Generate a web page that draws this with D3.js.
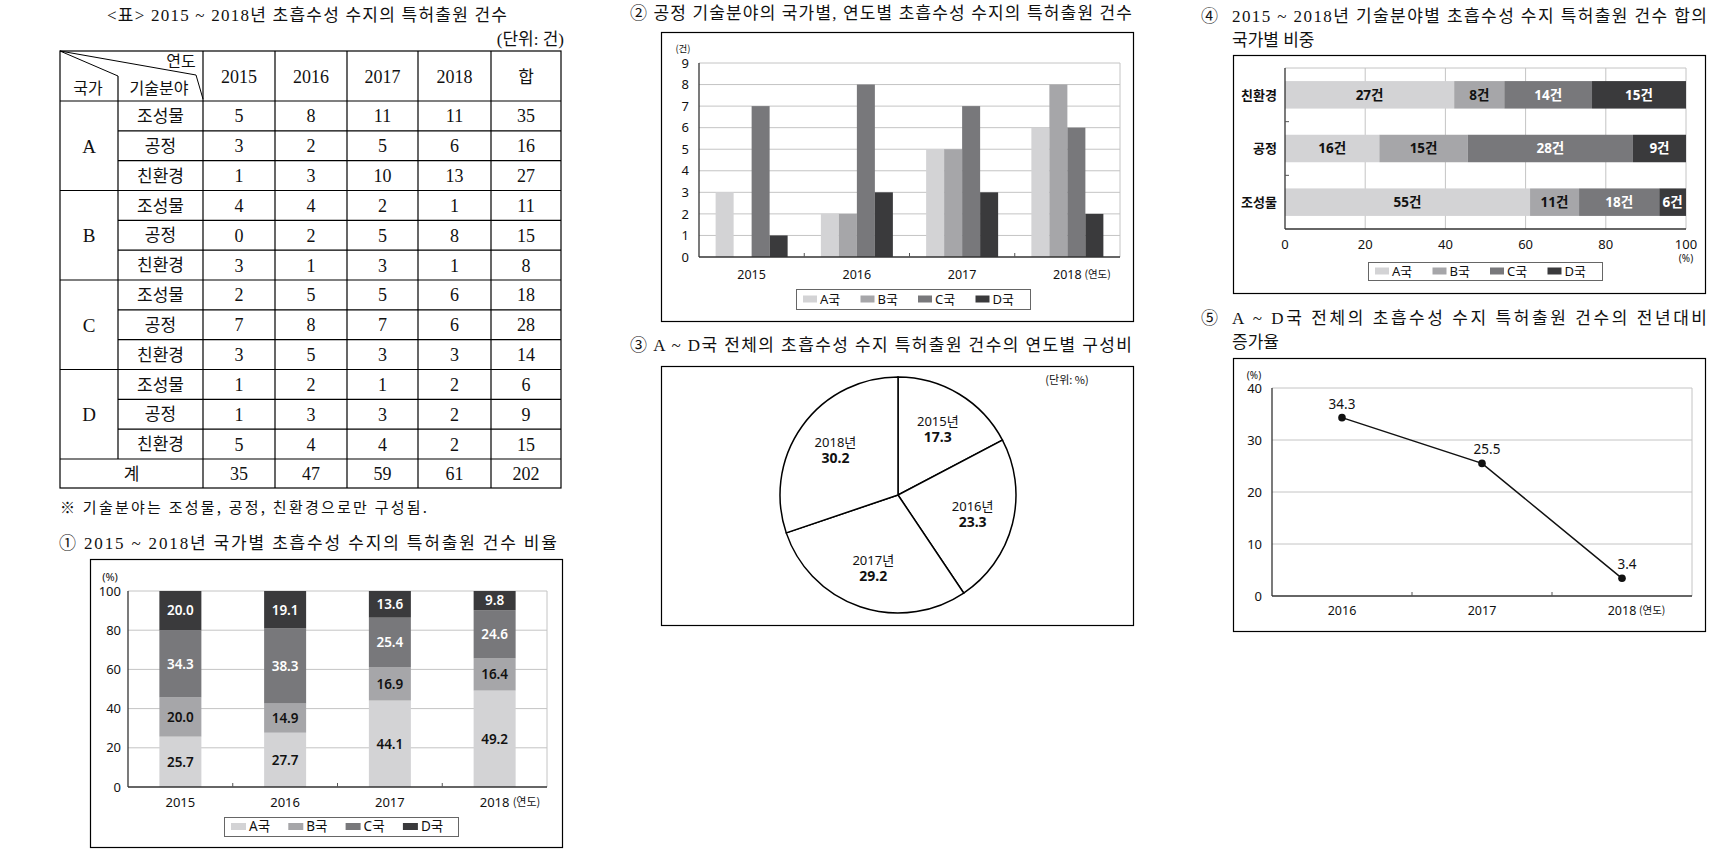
<!DOCTYPE html>
<html>
<head>
<meta charset="utf-8">
<script src="https://cdn.jsdelivr.net/npm/d3@7"></script>
<style>
body { margin: 0; background: #fff; }
svg text { font-family: "Noto Sans", "Noto Sans CJK KR", sans-serif; fill: #111; }
svg text.serif { font-family: "Liberation Serif", "Noto Sans CJK KR", serif; }
svg text.kr { font-family: "Noto Sans CJK KR", sans-serif; }
</style>
</head>
<body>
<div id="chart"></div>
<script>
// ---- data ----
const years = ["2015", "2016", "2017", "2018"];
const countries = ["A국", "B국", "C국", "D국"];
const countryLetters = ["A", "B", "C", "D"];
const fields = ["조성물", "공정", "친환경"];

// table rows: 2015, 2016, 2017, 2018, 합
const tableA = [[5, 8, 11, 11, 35], [3, 2, 5, 6, 16], [1, 3, 10, 13, 27]];
const tableB = [[4, 4, 2, 1, 11], [0, 2, 5, 8, 15], [3, 1, 3, 1, 8]];
const tableC = [[2, 5, 5, 6, 18], [7, 8, 7, 6, 28], [3, 5, 3, 3, 14]];
const tableD = [[1, 2, 1, 2, 6], [1, 3, 3, 2, 9], [5, 4, 4, 2, 15]];
const tableTotal = [35, 47, 59, 61, 202];

// ① share by country (%)
const shareA = [25.7, 27.7, 44.1, 49.2];
const shareB = [20.0, 14.9, 16.9, 16.4];
const shareC = [34.3, 38.3, 25.4, 24.6];
const shareD = [20.0, 19.1, 13.6, 9.8];

// ② 공정 counts
const processA = [3, 2, 5, 6];
const processB = [0, 2, 5, 8];
const processC = [7, 8, 7, 6];
const processD = [1, 3, 3, 2];

// ③ share by year (%)
const pieShares = [17.3, 23.3, 29.2, 30.2];

// ④ field totals by country
const fieldOrder = ["친환경", "공정", "조성물"];
const fieldA = [27, 16, 55];
const fieldB = [8, 15, 11];
const fieldC = [14, 28, 18];
const fieldD = [15, 9, 6];

// ⑤ growth rate (%)
const growthYears = ["2016", "2017", "2018"];
const growthRate = [34.3, 25.5, 3.4];

const colors = ["#d3d3d5", "#a6a6a9", "#78787b", "#3a3a3c"];
const gridColor = "#c4c4c4";

const svg = d3.select("#chart").append("svg")
    .attr("width", 1715)
    .attr("height", 855);

function title(x, y, str, len, size) {
    const t = svg.append("text").attr("class", "serif")
        .attr("x", x).attr("y", y)
        .style("font-size", (size || 17) + "px")
        .text(str);
    if (len) t.attr("textLength", len).attr("lengthAdjust", "spacing");
    return t;
}

function box(x0, y0, x1, y1) {
    svg.append("rect")
        .attr("x", x0 + 0.5).attr("y", y0 + 0.5)
        .attr("width", x1 - x0).attr("height", y1 - y0)
        .attr("fill", "none").attr("stroke", "#000").attr("stroke-width", 1.2);
}

function legend(x0, y0, x1, y1, sx, step, size, sw) {
    const g = svg.append("g");
    g.append("rect").attr("x", x0 + 0.5).attr("y", y0 + 0.5)
        .attr("width", x1 - x0).attr("height", y1 - y0)
        .attr("fill", "#fff").attr("stroke", "#666");
    const cy = (y0 + y1) / 2;
    sw = sw || 14;
    countries.forEach((c, i) => {
        g.append("rect").attr("x", sx + i * step).attr("y", cy - 3.5)
            .attr("width", sw).attr("height", 7).attr("fill", colors[i]);
        g.append("text").attr("x", sx + i * step + sw + 3).attr("y", cy)
            .attr("dy", "0.35em").style("font-size", size + "px").text(c);
    });
}

// ================= TABLE =================
title(107, 21, "<표> 2015 ~ 2018년 초흡수성 수지의 특허출원 건수", 400, 17);
title(564, 45, "(단위: 건)", null, 17).attr("text-anchor", "end");

const colX = [60, 118, 203, 275, 347, 418, 491, 561];
const headTop = 51, rowY0 = 101, rowH = (459 - 101) / 12, totalBottom = 488;
const tableRows = [tableA, tableB, tableC, tableD];
const tb = svg.append("g");
const line = (x1, y1, x2, y2, w) => tb.append("line")
    .attr("x1", x1).attr("y1", y1).attr("x2", x2).attr("y2", y2)
    .attr("stroke", "#000").attr("stroke-width", w || 1.2);

// outer frame and verticals
tb.append("rect").attr("x", colX[0]).attr("y", headTop)
    .attr("width", colX[7] - colX[0]).attr("height", totalBottom - headTop)
    .attr("fill", "none").attr("stroke", "#000").attr("stroke-width", 1.2);
line(colX[1], 76, colX[1], 459);
colX.slice(2, 7).forEach(x => line(x, headTop, x, totalBottom));
line(colX[0], rowY0, colX[7], rowY0);
for (let r = 1; r < 12; r++) {
    const y = rowY0 + r * rowH;
    if (r % 3 === 0) line(colX[0], y, colX[7], y);
    else line(colX[1], y, colX[7], y);
}
line(colX[0], 459, colX[7], 459);
// header diagonals
line(colX[0], headTop, colX[1], 76, 1);
tb.append("path").attr("d", `M${colX[0]},${headTop}L196,75L203,99`)
    .attr("fill", "none").attr("stroke", "#000").attr("stroke-width", 1);

const cellText = (x, y, str, cls, size) => tb.append("text").attr("class", cls)
    .attr("x", x).attr("y", y).attr("dy", "0.36em").attr("text-anchor", "middle")
    .style("font-size", size + "px").text(str);

cellText(181, 61, "연도", "kr", 16);
cellText(88, 88, "국가", "kr", 16);
cellText(159, 88, "기술분야", "kr", 16);
years.concat(["합"]).forEach((yv, i) => {
    cellText((colX[i + 2] + colX[i + 3]) / 2, 77, yv, yv === "합" ? "kr" : "serif", yv === "합" ? 17 : 18);
});
tableRows.forEach((rows, ci) => {
    cellText((colX[0] + colX[1]) / 2, rowY0 + (ci * 3 + 1.5) * rowH, countryLetters[ci], "serif", 19);
    rows.forEach((vals, fi) => {
        const cy = rowY0 + (ci * 3 + fi + 0.5) * rowH;
        cellText((colX[1] + colX[2]) / 2, cy, fields[fi], "kr", 17);
        vals.forEach((v, k) => cellText((colX[k + 2] + colX[k + 3]) / 2, cy, v, "serif", 18));
    });
});
cellText((colX[0] + colX[2]) / 2, (459 + totalBottom) / 2, "계", "kr", 17);
tableTotal.forEach((v, k) => cellText((colX[k + 2] + colX[k + 3]) / 2, (459 + totalBottom) / 2, v, "serif", 18));

svg.append("text").attr("class", "kr").attr("x", 60).attr("y", 513)
    .attr("textLength", 367).attr("lengthAdjust", "spacing")
    .style("font-size", "15px").text("※  기술분야는 조성물, 공정, 친환경으로만 구성됨.");

// ================= ① stacked 100% bars =================
title(59, 549, "① 2015 ~ 2018년 국가별 초흡수성 수지의 특허출원 건수 비율", 498);
box(90, 559, 562, 847);
{
    const g = svg.append("g");
    const x0 = 128, x1 = 547;
    const x = d3.scaleBand().domain(years).range([x0, x1]);
    const y = d3.scaleLinear().domain([0, 100]).range([787, 591]);
    const ticks = y.ticks(5);
    g.selectAll(".grid").data(ticks.slice(1)).enter().append("line")
        .attr("x1", x0).attr("x2", x1).attr("y1", d => y(d)).attr("y2", d => y(d))
        .attr("stroke", gridColor);
    g.append("line").attr("x1", x1).attr("x2", x1).attr("y1", 591).attr("y2", 787).attr("stroke", gridColor);

    const rows = years.map((yr, i) => [shareA[i], shareB[i], shareC[i], shareD[i]]);
    const series = d3.stack().keys([0, 1, 2, 3])(rows);
    const bw = 42;
    series.forEach((s, si) => {
        g.selectAll(".b" + si).data(s).enter().append("rect")
            .attr("x", (d, i) => x(years[i]) + x.bandwidth() / 2 - bw / 2)
            .attr("y", d => y(d[1]))
            .attr("width", bw)
            .attr("height", d => y(d[0]) - y(d[1]))
            .attr("fill", colors[si]);
        g.selectAll(".l" + si).data(s).enter().append("text")
            .attr("x", (d, i) => x(years[i]) + x.bandwidth() / 2)
            .attr("y", d => y((d[0] + d[1]) / 2))
            .attr("dy", "0.36em").attr("text-anchor", "middle")
            .style("font-size", "13.5px").style("font-weight", 600)
            .style("fill", si >= 2 ? "#fff" : "#111")
            .text((d, i) => rows[i][si].toFixed(1));
    });

    g.append("g").attr("transform", `translate(${x0},0)`)
        .call(d3.axisLeft(y).ticks(5).tickSize(0).tickPadding(7))
        .call(a => a.select(".domain").remove())
        .selectAll("text").style("font-size", "13px").style("fill", "#111");
    g.append("line").attr("x1", x0).attr("x2", x0).attr("y1", 591).attr("y2", 787).attr("stroke", "#333").attr("stroke-width", 1.3);
    g.append("line").attr("x1", x0).attr("x2", x1).attr("y1", 787).attr("y2", 787).attr("stroke", "#333").attr("stroke-width", 1.5);
    years.slice(1).forEach(yr => g.append("line").attr("x1", x(yr)).attr("x2", x(yr))
        .attr("y1", 783).attr("y2", 787).attr("stroke", "#555"));
    years.forEach(yr => g.append("text").attr("x", x(yr) + x.bandwidth() / 2).attr("y", 802)
        .attr("dy", "0.36em").attr("text-anchor", "middle").style("font-size", "13px").text(yr));
    g.append("text").attr("x", x("2018") + x.bandwidth() / 2 + 18).attr("y", 802).attr("dy", "0.36em")
        .attr("class", "kr").style("font-size", "11px").text("(연도)");
    g.append("text").attr("x", 110).attr("y", 577).attr("dy", "0.36em").attr("text-anchor", "middle")
        .style("font-size", "11px").text("(%)");
    legend(224, 817, 458, 836, 231, 57.3, 13.5, 15);
}

// ================= ② grouped bars =================
title(630, 19, "② 공정 기술분야의 국가별, 연도별 초흡수성 수지의 특허출원 건수", 502);
box(661, 32, 1133, 321);
{
    const g = svg.append("g");
    const x = d3.scaleBand().domain(years).range([699, 1120]);
    const xi = d3.scaleBand().domain([0, 1, 2, 3]).range([-36, 36]);
    const y = d3.scaleLinear().domain([0, 9]).range([257, 63]);
    const ticks = d3.range(0, 10);
    g.selectAll(".grid").data(ticks.slice(1)).enter().append("line")
        .attr("x1", 699).attr("x2", 1120).attr("y1", d => y(d)).attr("y2", d => y(d))
        .attr("stroke", gridColor);
    g.append("line").attr("x1", 1120).attr("x2", 1120).attr("y1", 63).attr("y2", 257).attr("stroke", gridColor);

    const groups = [processA, processB, processC, processD];
    groups.forEach((vals, si) => {
        g.selectAll(".b" + si).data(vals).enter().append("rect")
            .attr("x", (d, i) => x(years[i]) + x.bandwidth() / 2 + xi(si))
            .attr("y", d => y(d))
            .attr("width", xi.bandwidth())
            .attr("height", d => y(0) - y(d))
            .attr("fill", colors[si]);
    });

    g.append("g").attr("transform", "translate(699,0)")
        .call(d3.axisLeft(y).tickValues(ticks).tickSize(0).tickPadding(10))
        .call(a => a.select(".domain").remove())
        .selectAll("text").style("font-size", "13px").style("fill", "#111");
    g.append("line").attr("x1", 699).attr("x2", 699).attr("y1", 63).attr("y2", 257).attr("stroke", "#333").attr("stroke-width", 1.3);
    g.append("line").attr("x1", 699).attr("x2", 1120).attr("y1", 257).attr("y2", 257).attr("stroke", "#333").attr("stroke-width", 1.5);
    years.slice(1).forEach(yr => g.append("line").attr("x1", x(yr)).attr("x2", x(yr))
        .attr("y1", 253).attr("y2", 257).attr("stroke", "#555"));
    years.forEach(yr => g.append("text").attr("x", x(yr) + x.bandwidth() / 2).attr("y", 274)
        .attr("dy", "0.36em").attr("text-anchor", "middle").style("font-size", "12.5px").text(yr));
    g.append("text").attr("x", x("2018") + x.bandwidth() / 2 + 17).attr("y", 274).attr("dy", "0.36em")
        .attr("class", "kr").style("font-size", "10.5px").text("(연도)");
    g.append("text").attr("x", 683).attr("y", 49).attr("dy", "0.36em").attr("text-anchor", "middle")
        .attr("class", "kr").style("font-size", "9.5px").text("(건)");
    legend(796, 289, 1030, 309, 803, 57.5, 13);
}

// ================= ③ pie =================
title(630, 351, "③ A ~ D국 전체의 초흡수성 수지 특허출원 건수의 연도별 구성비", 502);
box(661, 366, 1133, 625);
{
    const g = svg.append("g").attr("transform", "translate(898,495)");
    const pie = d3.pie().sort(null).value(d => d)(pieShares);
    const arc = d3.arc().innerRadius(0).outerRadius(118);
    const labelArc = d3.arc().innerRadius(77).outerRadius(77);
    g.selectAll("path").data(pie).enter().append("path")
        .attr("d", arc).attr("fill", "#fff").attr("stroke", "#000").attr("stroke-width", 1.5);
    pie.forEach((p, i) => {
        const [cx, cy] = labelArc.centroid(p);
        g.append("text").attr("x", cx).attr("y", cy - 8).attr("dy", "0.36em")
            .attr("text-anchor", "middle").style("font-size", "13px").text(years[i] + "년");
        g.append("text").attr("x", cx).attr("y", cy + 8).attr("dy", "0.36em")
            .attr("text-anchor", "middle").style("font-size", "14px").style("font-weight", 700)
            .text(pieShares[i].toFixed(1));
    });
    svg.append("text").attr("x", 1067).attr("y", 380).attr("dy", "0.36em").attr("text-anchor", "middle")
        .attr("class", "kr").style("font-size", "11px").text("(단위: %)");
}

// ================= ④ horizontal 100% bars =================
title(1201, 22, "④", null);
title(1232, 22, "2015 ~ 2018년 기술분야별 초흡수성 수지 특허출원 건수 합의", 475);
title(1232, 46, "국가별 비중", null);
box(1233, 55, 1705, 293);
{
    const g = svg.append("g");
    const y = d3.scaleBand().domain(fieldOrder).range([68, 229]);
    const x = d3.scaleLinear().domain([0, 100]).range([1285, 1686]);
    const rows = fieldOrder.map((f, i) => [fieldA[i], fieldB[i], fieldC[i], fieldD[i]]);
    const series = d3.stack().keys([0, 1, 2, 3]).offset(d3.stackOffsetExpand)(rows);
    const ticks = x.ticks(5);
    g.selectAll(".grid").data(ticks.slice(1)).enter().append("line")
        .attr("x1", d => x(d)).attr("x2", d => x(d)).attr("y1", 68).attr("y2", 229)
        .attr("stroke", gridColor);
    g.append("line").attr("x1", 1285).attr("x2", 1686).attr("y1", 68).attr("y2", 68).attr("stroke", gridColor);
    const bh = 27.5;
    series.forEach((s, si) => {
        g.selectAll(".b" + si).data(s).enter().append("rect")
            .attr("x", d => x(d[0] * 100))
            .attr("y", (d, i) => y(fieldOrder[i]) + y.bandwidth() / 2 - bh / 2)
            .attr("width", d => x(d[1] * 100) - x(d[0] * 100))
            .attr("height", bh)
            .attr("fill", colors[si]);
        g.selectAll(".l" + si).data(s).enter().append("text")
            .attr("x", d => x((d[0] + d[1]) * 50))
            .attr("y", (d, i) => y(fieldOrder[i]) + y.bandwidth() / 2)
            .attr("dy", "0.36em").attr("text-anchor", "middle")
            .style("font-size", "13.5px").style("font-weight", 700)
            .style("fill", si >= 2 ? "#fff" : "#111")
            .text((d, i) => rows[i][si] + "건");
    });
    g.append("line").attr("x1", 1285).attr("x2", 1285).attr("y1", 68).attr("y2", 229).attr("stroke", "#333").attr("stroke-width", 1.3);
    g.append("line").attr("x1", 1285).attr("x2", 1686).attr("y1", 229).attr("y2", 229).attr("stroke", "#333").attr("stroke-width", 1.5);
    fieldOrder.slice(1).forEach(f => g.append("line").attr("x1", 1285).attr("x2", 1289)
        .attr("y1", y(f)).attr("y2", y(f)).attr("stroke", "#555"));
    fieldOrder.forEach(f => g.append("text").attr("x", 1277).attr("y", y(f) + y.bandwidth() / 2)
        .attr("dy", "0.36em").attr("text-anchor", "end").attr("class", "kr")
        .style("font-size", "13px").style("font-weight", 700).text(f));
    ticks.forEach(t => g.append("text").attr("x", x(t)).attr("y", 244).attr("dy", "0.36em")
        .attr("text-anchor", "middle").style("font-size", "13px").text(t));
    g.append("text").attr("x", 1686).attr("y", 258).attr("dy", "0.36em").attr("text-anchor", "middle")
        .style("font-size", "10px").text("(%)");
    legend(1368, 262, 1602, 280, 1375, 57.5, 13);
}

// ================= ⑤ line =================
title(1201, 324, "⑤", null);
title(1232, 324, "A ~ D국 전체의 초흡수성 수지 특허출원 건수의 전년대비", 475);
title(1232, 348, "증가율", null);
box(1233, 358, 1705, 631);
{
    const g = svg.append("g");
    const x = d3.scaleBand().domain(growthYears).range([1272, 1692]);
    const y = d3.scaleLinear().domain([0, 40]).range([596, 388]);
    const ticks = y.ticks(4);
    g.selectAll(".grid").data(ticks.slice(1)).enter().append("line")
        .attr("x1", 1272).attr("x2", 1692).attr("y1", d => y(d)).attr("y2", d => y(d))
        .attr("stroke", gridColor);
    g.append("line").attr("x1", 1692).attr("x2", 1692).attr("y1", 388).attr("y2", 596).attr("stroke", gridColor);

    const cx = (d, i) => x(growthYears[i]) + x.bandwidth() / 2;
    g.append("path").datum(growthRate)
        .attr("d", d3.line().x(cx).y(d => y(d)))
        .attr("fill", "none").attr("stroke", "#111").attr("stroke-width", 1.5);
    g.selectAll(".pt").data(growthRate).enter().append("circle")
        .attr("cx", cx).attr("cy", d => y(d)).attr("r", 3.8).attr("fill", "#111");
    g.selectAll(".lb").data(growthRate).enter().append("text")
        .attr("x", (d, i) => cx(d, i) + (i === 0 ? 0 : 5)).attr("y", d => y(d) - 14)
        .attr("dy", "0.36em").attr("text-anchor", "middle")
        .style("font-size", "13.5px").text(d => d.toFixed(1));

    g.append("g").attr("transform", "translate(1272,0)")
        .call(d3.axisLeft(y).ticks(4).tickSize(0).tickPadding(10))
        .call(a => a.select(".domain").remove())
        .selectAll("text").style("font-size", "13px").style("fill", "#111");
    g.append("line").attr("x1", 1272).attr("x2", 1272).attr("y1", 388).attr("y2", 596).attr("stroke", "#333").attr("stroke-width", 1.3);
    g.append("line").attr("x1", 1272).attr("x2", 1692).attr("y1", 596).attr("y2", 596).attr("stroke", "#333").attr("stroke-width", 1.5);
    growthYears.slice(1).forEach(yr => g.append("line").attr("x1", x(yr)).attr("x2", x(yr))
        .attr("y1", 592).attr("y2", 596).attr("stroke", "#555"));
    growthYears.forEach(yr => g.append("text").attr("x", x(yr) + x.bandwidth() / 2).attr("y", 610)
        .attr("dy", "0.36em").attr("text-anchor", "middle").style("font-size", "12.5px").text(yr));
    g.append("text").attr("x", x("2018") + x.bandwidth() / 2 + 17).attr("y", 610).attr("dy", "0.36em")
        .attr("class", "kr").style("font-size", "10.5px").text("(연도)");
    g.append("text").attr("x", 1254).attr("y", 375).attr("dy", "0.36em").attr("text-anchor", "middle")
        .style("font-size", "10px").text("(%)");
}
</script>
</body>
</html>
